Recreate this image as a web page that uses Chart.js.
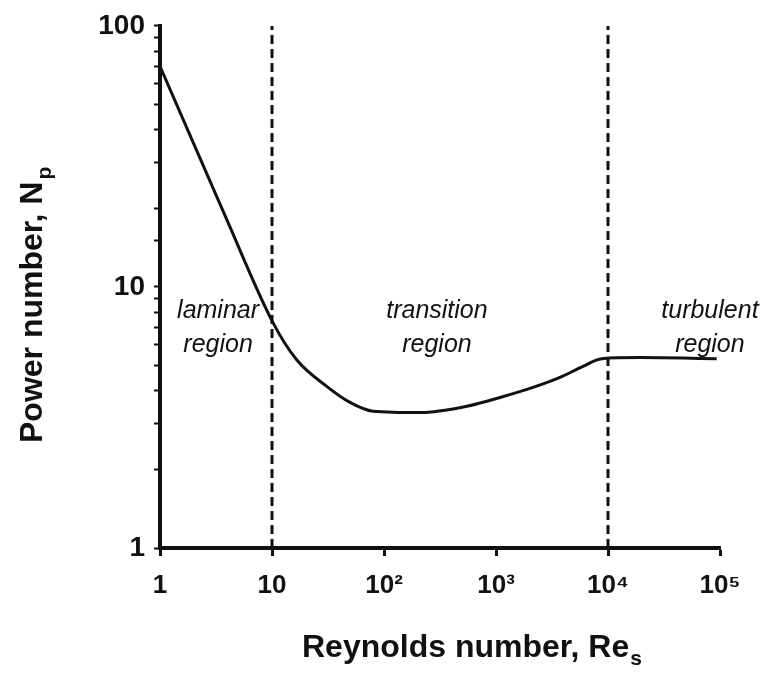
<!DOCTYPE html>
<html>
<head>
<meta charset="utf-8">
<script src="https://cdn.jsdelivr.net/npm/chart.js@4.4.1/dist/chart.umd.min.js"></script>
<style>
    html, body { margin: 0; padding: 0; background: #fff; }
    #wrap { width: 768px; height: 673px; position: relative; }
</style>
</head>
<body>
<div id="wrap"><canvas id="chart"></canvas></div>
<script>
// Power number curve
const reynolds = [1, 3.86, 10.2, 16.6, 30.8, 49.7, 79.7, 210, 551, 1086, 2140, 3727, 5980, 8790, 19300, 93500];
const powerNumber = [70, 18.5, 7.3, 5.26, 4.16, 3.61, 3.34, 3.30, 3.49, 3.77, 4.12, 4.50, 4.96, 5.31, 5.36, 5.31];

// regime boundaries (dashed lines)
const boundaries = [10, 10000];

const xTicks = [1, 10, 100, 1000, 10000, 100000];
const xTickLabels = ["1", "10", "10\u00b2", "10\u00b3", "10\u2074", "10\u2075"];
const yTicksLabelled = [1, 10, 100];

const regionNames = [["laminar", "region"], ["transition", "region"], ["turbulent", "region"]];
const regionCentres = [3.3, 297, 81300];
const regionLineValues = [8.1, 6.0];

const fontFamily = "'Liberation Sans', Arial, Helvetica, sans-serif";

const curvePoints = reynolds.map((re, i) => ({ x: re, y: powerNumber[i] }));

const boundaryDatasets = boundaries.map((re) => ({
    data: [{ x: re, y: 1 }, { x: re, y: 100 }],
    borderColor: "#111",
    borderWidth: 3,
    borderDash: [9, 5],
    pointRadius: 0,
    showLine: true,
    fill: false,
}));

const textPlugin = {
    id: "textPlugin",
    afterDraw(chart) {
        const ctx = chart.ctx;
        const xs = chart.scales.x;
        const ys = chart.scales.y;
        ctx.save();
        ctx.fillStyle = "#111";

        // region labels
        ctx.font = `italic 25px ${fontFamily}`;
        ctx.textAlign = "center";
        ctx.textBaseline = "middle";
        regionNames.forEach((lines, i) => {
            const px = xs.getPixelForValue(regionCentres[i]);
            lines.forEach((line, j) => {
                ctx.fillText(line, px, ys.getPixelForValue(regionLineValues[j]));
            });
        });

        // x axis title with subscript
        ctx.textAlign = "left";
        ctx.textBaseline = "alphabetic";
        ctx.font = `bold 32px ${fontFamily}`;
        const xTitle = "Reynolds number, Re";
        ctx.fillText(xTitle, 302, 657);
        const xw = ctx.measureText(xTitle).width;
        ctx.font = `bold 21px ${fontFamily}`;
        ctx.fillText("s", 302 + xw + 1, 665);

        // y axis title with subscript
        ctx.translate(42, 443);
        ctx.rotate(-Math.PI / 2);
        ctx.font = `bold 32px ${fontFamily}`;
        const yTitle = "Power number, N";
        ctx.fillText(yTitle, 0, 0);
        const yw = ctx.measureText(yTitle).width;
        ctx.font = `bold 21px ${fontFamily}`;
        ctx.fillText("p", yw + 2, 9);
        ctx.restore();
    },
};

new Chart(document.getElementById("chart"), {
    type: "scatter",
    data: {
        datasets: [
            {
                data: curvePoints,
                borderColor: "#111",
                borderWidth: 3,
                pointRadius: 0,
                showLine: true,
                fill: false,
                cubicInterpolationMode: "monotone",
            },
            ...boundaryDatasets,
        ],
    },
    options: {
        responsive: true,
        maintainAspectRatio: false,
        animation: false,
        layout: { padding: { top: 25, right: 48, left: 0, bottom: 0 } },
        plugins: {
            legend: { display: false },
            tooltip: { enabled: false },
        },
        scales: {
            x: {
                type: "logarithmic",
                min: 1,
                max: 100000,
                afterBuildTicks: (scale) => {
                    scale.ticks = xTicks.map((v) => ({ value: v, major: true }));
                },
                afterFit: (scale) => {
                    scale.height = 125;
                },
                border: { color: "#111", width: 4 },
                grid: {
                    drawOnChartArea: false,
                    drawTicks: true,
                    tickLength: 8,
                    tickWidth: 3,
                    color: "#111",
                },
                ticks: {
                    autoSkip: false,
                    maxRotation: 0,
                    padding: 14,
                    color: "#111",
                    font: { family: fontFamily, size: 26, weight: "bold" },
                    callback: (value) => {
                        const i = xTicks.indexOf(value);
                        return i >= 0 ? xTickLabels[i] : "";
                    },
                },
            },
            y: {
                type: "logarithmic",
                min: 1,
                max: 100,
                afterFit: (scale) => {
                    scale.width = 160;
                },
                border: { color: "#111", width: 4 },
                grid: {
                    drawOnChartArea: false,
                    drawTicks: true,
                    tickLength: 6,
                    tickWidth: 2,
                    color: "#111",
                },
                ticks: {
                    autoSkip: false,
                    padding: 9,
                    color: "#111",
                    font: { family: fontFamily, size: 28, weight: "bold" },
                    callback: (value) => (yTicksLabelled.includes(value) ? String(value) : ""),
                },
            },
        },
    },
    plugins: [textPlugin],
});
</script>
</body>
</html>
